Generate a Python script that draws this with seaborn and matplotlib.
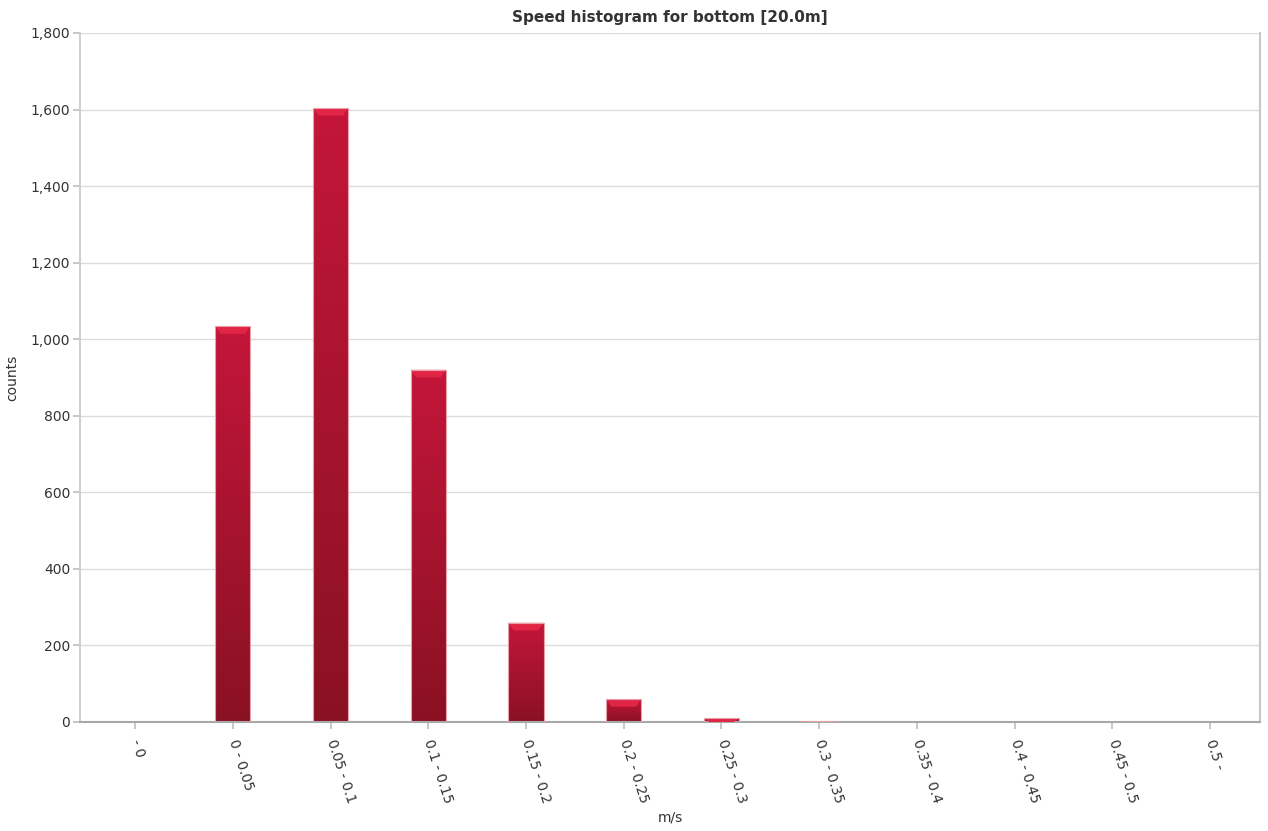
import numpy as np
import pandas as pd
import matplotlib
matplotlib.use("Agg")
import matplotlib.pyplot as plt
import seaborn as sns
from matplotlib.ticker import FuncFormatter
from matplotlib.colors import LinearSegmentedColormap

categories = ["- 0", "0 - 0.05", "0.05 - 0.1", "0.1 - 0.15", "0.15 - 0.2", "0.2 - 0.25",
              "0.25 - 0.3", "0.3 - 0.35", "0.35 - 0.4", "0.4 - 0.45", "0.45 - 0.5", "0.5 -"]
counts = [0, 1034, 1604, 920, 259, 60, 10, 2, 0, 0, 0, 0]
title = "Speed histogram for bottom [20.0m]"

sns.set_theme(style="white")
plt.rcParams['font.family'] = ['DejaVu Sans']

fig = plt.figure(figsize=(12.68, 8.31), dpi=100)
ax = fig.add_axes([0.0631, 0.1312, 0.9306, 0.8291])

df = pd.DataFrame({"cat": categories, "count": counts})
sns.barplot(data=df, x="cat", y="count", ax=ax, color="#b01529", width=0.36,
            saturation=1, edgecolor="none", order=categories)

cmap = LinearSegmentedColormap.from_list("g", ["#8a1122", "#c4163a"])
grad = np.linspace(0, 1, 256).reshape(-1, 1)
for p in list(ax.patches):
    x0, y0 = p.get_x(), p.get_y()
    w, h = p.get_width(), p.get_height()
    if h <= 0:
        continue
    im = ax.imshow(grad, cmap=cmap, aspect="auto", origin="lower",
                   extent=[x0, x0 + w, y0, y0 + h], zorder=2.5)
    im.set_clip_path(p)
    bh = min(20, h)
    ax.fill([x0, x0 + w, x0 + w * 0.85, x0 + w * 0.15], [y0 + h, y0 + h, y0 + h - bh, y0 + h - bh],
            color="#e02545", zorder=2.6, lw=0)
    ax.plot([x0, x0, x0 + w, x0 + w], [y0, y0 + h, y0 + h, y0], color="#e8a0aa", lw=0.8, zorder=2.7)

ax.set_xlim(-0.563, 11.51)
ax.set_ylim(0, 1800)
ax.set_yticks(np.arange(0, 1801, 200))
ax.yaxis.set_major_formatter(FuncFormatter(lambda v, _: f"{int(v):,}"))
ax.grid(axis="y", color="#dcdcdc", lw=1)
ax.set_axisbelow(True)

for s in ["left", "bottom", "right"]:
    ax.spines[s].set_visible(True)
    ax.spines[s].set_color("#c8c8c8")
ax.spines["bottom"].set_color("#a8a8a8")
ax.spines["bottom"].set_linewidth(1.5)
ax.spines["right"].set_linewidth(1.5)
ax.spines["top"].set_visible(False)

ax.tick_params(axis="both", which="both", length=5, color="#c0c0c0", labelsize=10,
               labelcolor="#333333", bottom=True, left=True)
ax.tick_params(axis="y", pad=2)
for lab in ax.get_xticklabels():
    lab.set_rotation(-72)
    lab.set_ha("left")
    lab.set_va("center")
    lab.set_rotation_mode("anchor")
ax.tick_params(axis="x", pad=8)

ax.set_xlabel("m/s", fontsize=10, color="#333333", labelpad=4)
ax.set_ylabel("counts", fontsize=10, color="#333333", labelpad=8)
ax.set_title(title, fontsize=11, fontweight="bold", color="#333333", pad=8)

fig.savefig("out.png", dpi=100)
